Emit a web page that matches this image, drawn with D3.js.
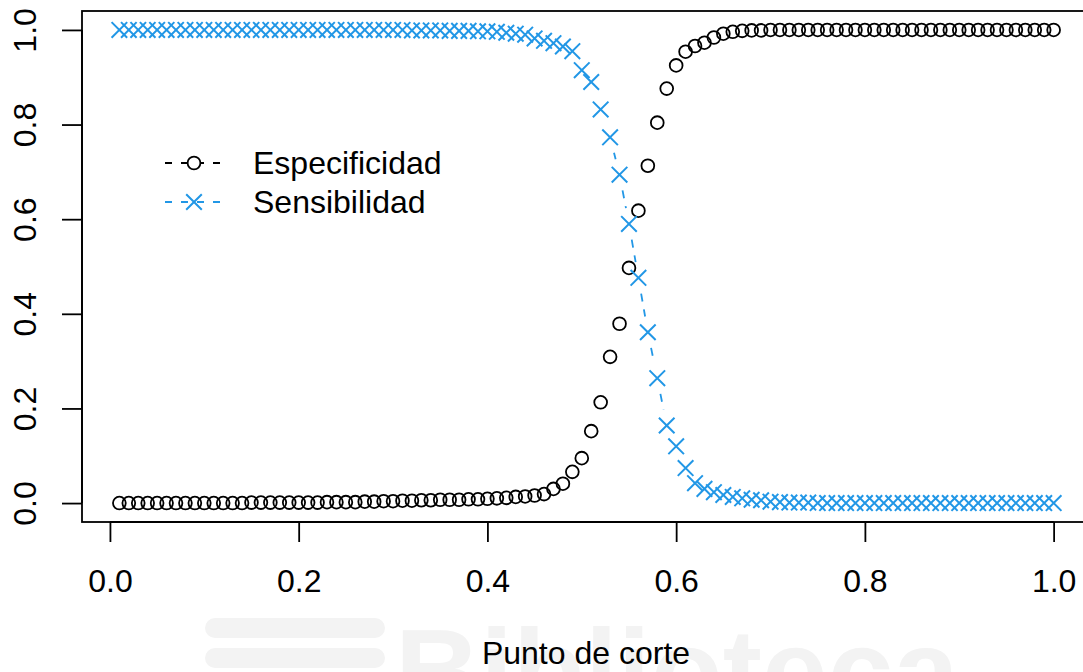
<!DOCTYPE html>
<head>
<meta charset="utf-8">
<script src="https://cdn.jsdelivr.net/npm/d3@7"></script>
<style>
body { margin: 0; background: #fff; }
svg text { font-family: "Liberation Sans", Arial, Helvetica, sans-serif; }
</style>
</head>
<body>
<svg id="chart" width="1083" height="672"></svg>
<script>
// cut points (x)
var cortes = [0.01,0.02,0.03,0.04,0.05,0.06,0.07,0.08,0.09,0.10,
  0.11,0.12,0.13,0.14,0.15,0.16,0.17,0.18,0.19,0.20,
  0.21,0.22,0.23,0.24,0.25,0.26,0.27,0.28,0.29,0.30,
  0.31,0.32,0.33,0.34,0.35,0.36,0.37,0.38,0.39,0.40,
  0.41,0.42,0.43,0.44,0.45,0.46,0.47,0.48,0.49,0.50,
  0.51,0.52,0.53,0.54,0.55,0.56,0.57,0.58,0.59,0.60,
  0.61,0.62,0.63,0.64,0.65,0.66,0.67,0.68,0.69,0.70,
  0.71,0.72,0.73,0.74,0.75,0.76,0.77,0.78,0.79,0.80,
  0.81,0.82,0.83,0.84,0.85,0.86,0.87,0.88,0.89,0.90,
  0.91,0.92,0.93,0.94,0.95,0.96,0.97,0.98,0.99,1.00];

var especificidad = [0,0,0,0,0,0,0,0,0,0,
  0,0,0,0,0.001,0.001,0.001,0.001,0.001,0.001,
  0.001,0.001,0.002,0.002,0.002,0.002,0.003,0.003,0.004,0.004,
  0.005,0.005,0.006,0.006,0.007,0.007,0.007,0.008,0.008,0.009,
  0.010,0.011,0.013,0.014,0.016,0.019,0.030,0.041,0.066,0.095,
  0.152,0.213,0.309,0.379,0.497,0.618,0.713,0.804,0.876,0.925,
  0.954,0.966,0.973,0.984,0.992,0.996,0.998,0.999,0.999,1,
  1,1,1,1,1,1,1,1,1,1,
  1,1,1,1,1,1,1,1,1,1,
  1,1,1,1,1,1,1,1,1,1];

var sensibilidad = [1,1,1,1,1,1,1,1,1,1,
  1,1,1,1,1,1,1,1,1,1,
  1,1,1,1,1,1,1,1,1,1,
  1,0.999,0.999,0.999,0.999,0.998,0.998,0.998,0.997,0.997,
  0.996,0.994,0.992,0.990,0.982,0.977,0.972,0.965,0.955,0.915,
  0.890,0.832,0.773,0.694,0.590,0.476,0.361,0.264,0.164,0.120,
  0.074,0.042,0.030,0.023,0.017,0.013,0.010,0.007,0.006,0.003,
  0.002,0.001,0.001,0.001,0,0,0,0,0,0,
  0,0,0,0,0,0,0,0,0,0,
  0,0,0,0,0,0,0,0,0,0];

var xTicks = [0, 0.2, 0.4, 0.6, 0.8, 1.0];
var yTicks = [0, 0.2, 0.4, 0.6, 0.8, 1.0];
var series = ["Especificidad", "Sensibilidad"];

var azul = "#2297E6";
var fs = 32;
var svg = d3.select("#chart");

// faint watermark behind everything
var wm = svg.append("g").attr("fill", "#f3f3f3");
wm.append("rect").attr("x", 205).attr("y", 618).attr("width", 180).attr("height", 20).attr("rx", 10);
wm.append("rect").attr("x", 205).attr("y", 648).attr("width", 180).attr("height", 20).attr("rx", 10);
wm.append("text").attr("x", 395).attr("y", 712).attr("font-size", 118).attr("font-weight", "bold")
  .text("Biblioteca");

var x = d3.scaleLinear().domain([-0.0296, 1.0396]).range([82, 1091]);
var y = d3.scaleLinear().domain([-0.04, 1.04]).range([522, 11]);

// box
svg.append("rect").attr("x", 82).attr("y", 11).attr("width", 1009).attr("height", 511)
  .attr("fill", "none").attr("stroke", "#000").attr("stroke-width", 1.8);

var xAxis = svg.append("g").attr("transform", "translate(0,522)")
  .call(d3.axisBottom(x).tickValues(xTicks).tickFormat(d3.format(".1f")).tickSize(20).tickPadding(27).tickSizeOuter(0));
var yAxis = svg.append("g").attr("transform", "translate(82,0)")
  .call(d3.axisLeft(y).tickValues(yTicks).tickFormat(d3.format(".1f")).tickSize(20).tickSizeOuter(0));

svg.selectAll(".domain").attr("stroke", "#000").attr("stroke-width", 1.8);
xAxis.select(".domain").attr("d", "M" + x(0) + ",0H" + x(1));
yAxis.select(".domain").attr("d", "M0," + y(0) + "V" + y(1));
svg.selectAll(".tick line").attr("stroke", "#000").attr("stroke-width", 1.8);
xAxis.selectAll("text").attr("font-size", fs).attr("fill", "#000")
  .attr("font-family", "'Liberation Sans', Arial, sans-serif");
yAxis.selectAll("text")
  .attr("font-size", fs).attr("fill", "#000")
  .attr("font-family", "'Liberation Sans', Arial, sans-serif")
  .attr("text-anchor", "middle").attr("dy", null).attr("x", null)
  .attr("transform", "translate(-46,0) rotate(-90)");

svg.append("text").attr("x", 586).attr("y", 664).attr("text-anchor", "middle")
  .attr("font-size", fs).text("Punto de corte");

// dashed connectors like R type="b": leave a gap around each point
var gap = 16;
function connectors(vals, color) {
  var pts = cortes.map((c, i) => [x(c), y(vals[i])]);
  var segs = [];
  for (var i = 1; i < pts.length; i++) {
    var dx = pts[i][0] - pts[i-1][0], dy = pts[i][1] - pts[i-1][1];
    var len = Math.sqrt(dx*dx + dy*dy);
    if (len > 2 * gap) {
      var ux = dx / len, uy = dy / len;
      segs.push([pts[i-1][0] + ux*gap, pts[i-1][1] + uy*gap, pts[i][0] - ux*gap, pts[i][1] - uy*gap]);
    }
  }
  svg.append("g").selectAll("line").data(segs).enter().append("line")
    .attr("x1", d => d[0]).attr("y1", d => d[1]).attr("x2", d => d[2]).attr("y2", d => d[3])
    .attr("stroke", color).attr("stroke-width", 1.8).attr("stroke-dasharray", "8 8");
}
// only the blue series shows visible connectors in the reference
connectors(sensibilidad, azul);

function cruz(g, cx, cy) {
  var h = 7.8;
  g.append("path").attr("d", "M" + (cx-h) + "," + (cy-h) + "L" + (cx+h) + "," + (cy+h) +
    "M" + (cx-h) + "," + (cy+h) + "L" + (cx+h) + "," + (cy-h))
    .attr("stroke", azul).attr("stroke-width", 2).attr("fill", "none");
}

svg.append("g").selectAll("circle").data(cortes).enter().append("circle")
  .attr("cx", d => x(d)).attr("cy", (d, i) => y(especificidad[i])).attr("r", 6.4)
  .attr("fill", "none").attr("stroke", "#000").attr("stroke-width", 1.8);

var gx = svg.append("g");
cortes.forEach((c, i) => cruz(gx, x(c), y(sensibilidad[i])));

// legend
var leg = svg.append("g");
var rows = [163, 202];
series.forEach(function(s, i) {
  var col = i == 0 ? "#000" : azul;
  leg.append("line").attr("x1", 165).attr("x2", 222).attr("y1", rows[i]).attr("y2", rows[i])
    .attr("stroke", col).attr("stroke-width", 1.8).attr("stroke-dasharray", "7 9");
  if (i == 0) {
    leg.append("circle").attr("cx", 194).attr("cy", rows[i]).attr("r", 6.4)
      .attr("fill", "#fff").attr("stroke", "#000").attr("stroke-width", 1.8);
  } else {
    cruz(leg, 194, rows[i]);
  }
  leg.append("text").attr("x", 253).attr("y", rows[i] + 11).attr("font-size", fs).text(s);
});
</script>
</body>
</html>
